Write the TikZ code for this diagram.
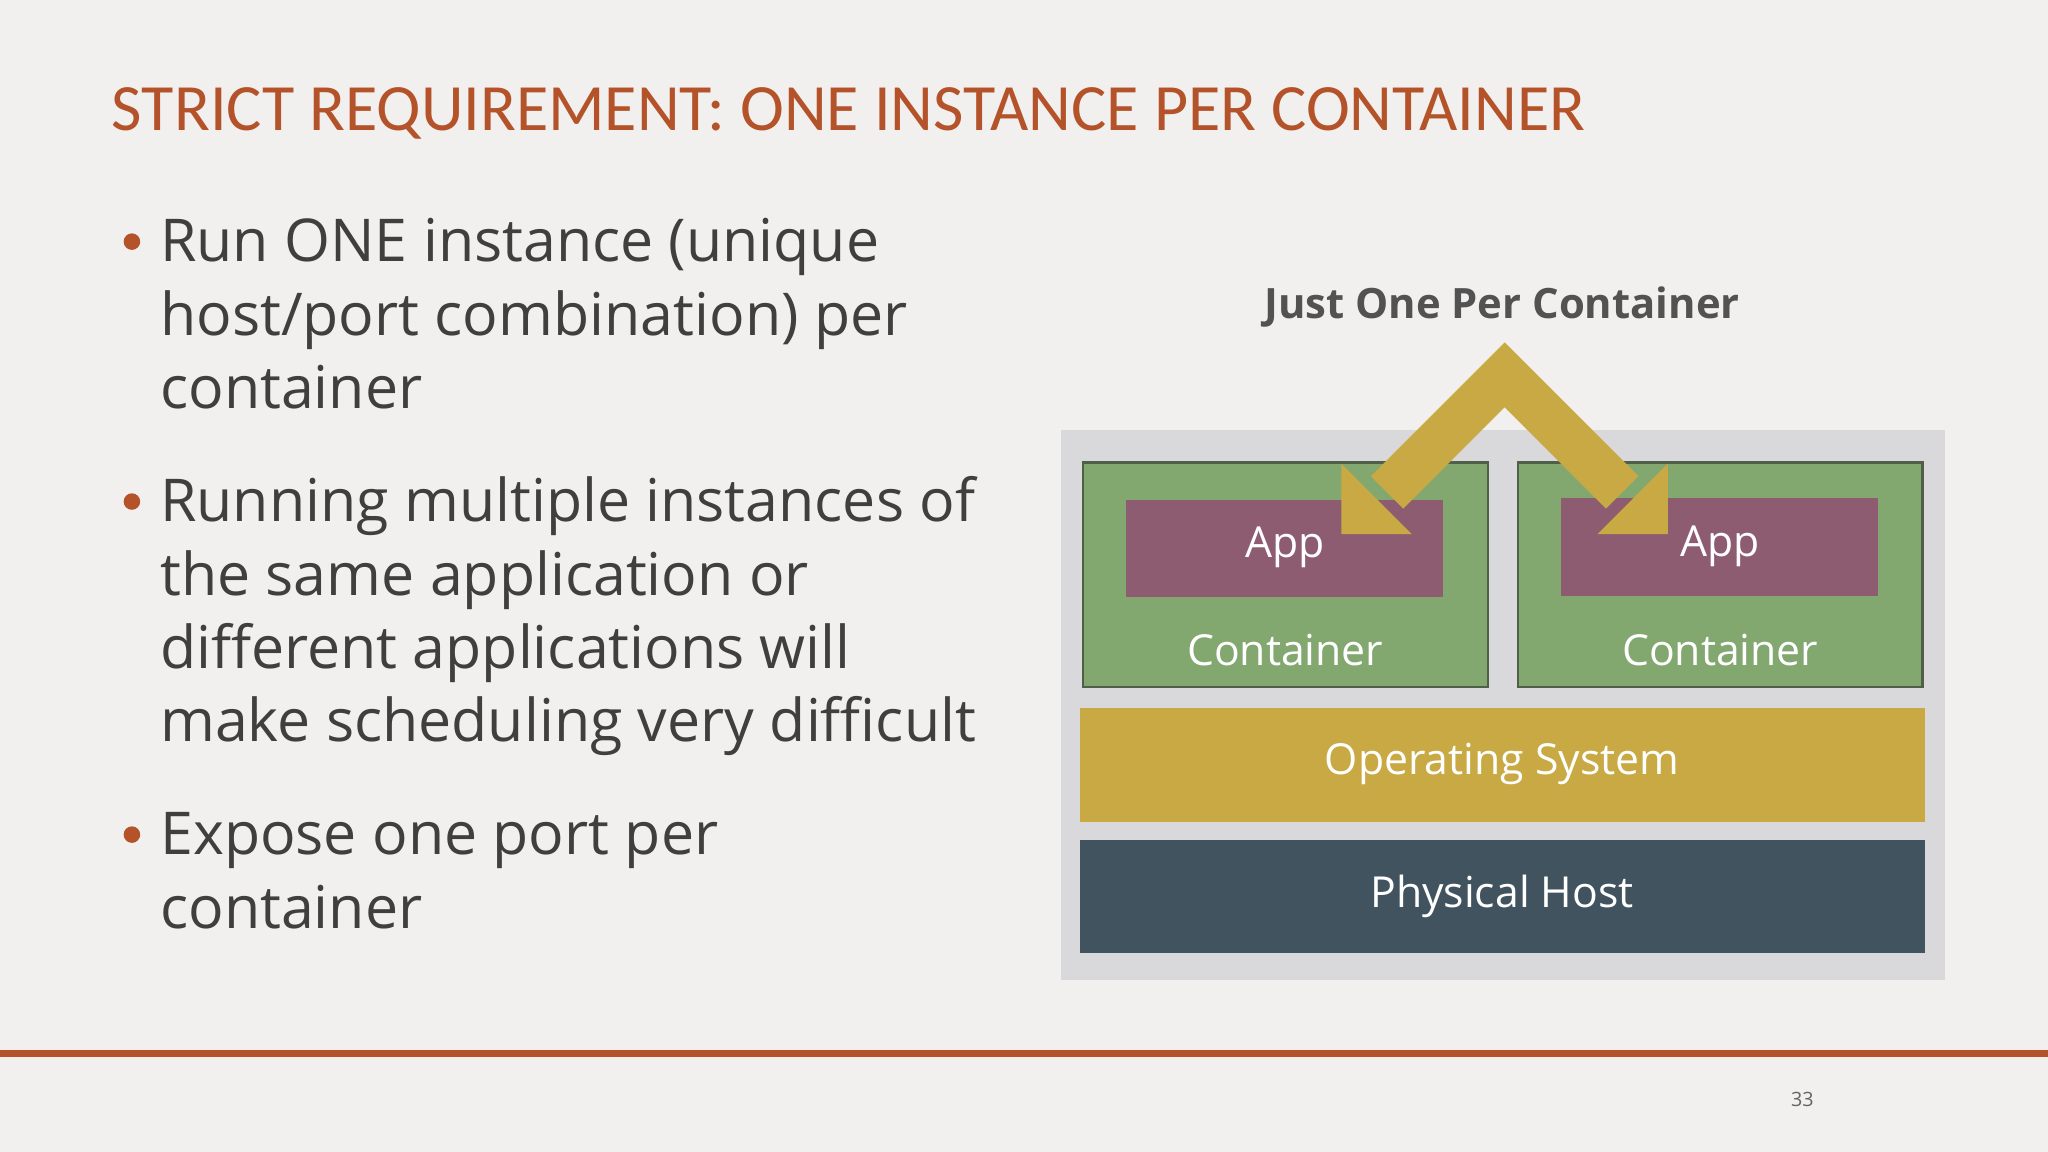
\documentclass[tikz,border=0pt]{standalone}
\usepackage{fontspec}
\setmainfont{Carlito}
\newfontfamily\osans{Open Sans}
\definecolor{bg}{HTML}{F1F0EE}
\definecolor{rust}{HTML}{B4532A}
\definecolor{txt}{HTML}{3F3F3F}
\definecolor{panel}{HTML}{D9D8DA}
\definecolor{cgreen}{HTML}{82A86F}
\definecolor{cborder}{HTML}{4F5F48}
\definecolor{cpurple}{HTML}{8E5C70}
\definecolor{gold}{HTML}{C9A944}
\definecolor{slate}{HTML}{41535F}
\begin{document}
\begin{tikzpicture}[x=0.01cm,y=-0.01cm,
  btxt/.style={anchor=base west,inner sep=0,text=txt,font=\osans\fontsize{12.85pt}{16pt}\selectfont},
  bdot/.style={circle,fill=rust,inner sep=0,minimum size=3.6pt},
  wlbl/.style={text=white,font=\osans\fontsize{9.3pt}{11pt}\selectfont},
  cont/.style={fill=cgreen,draw=cborder,line width=0.5pt},
  appbox/.style={fill=cpurple}]
\fill[bg] (0,0) rectangle (1568,882);
\useasboundingbox (0,0) rectangle (1568,882);
\node[anchor=base west,inner sep=0,text=rust,font=\fontsize{14.4pt}{16pt}\selectfont] (title) at (85,100) {STRICT REQUIREMENT: ONE INSTANCE PER CONTAINER};
% bullets
\node[bdot] (d1) at (101,185) {};
\node[btxt] (b1a) at (122,200) {Run ONE instance (unique};
\node[btxt] (b1b) at (122,257) {host/port combination) per};
\node[btxt] (b1c) at (122,313) {container};
\node[bdot] (d2) at (101,384) {};
\node[btxt] (b2a) at (122,399) {Running multiple instances of};
\node[btxt] (b2b) at (122,456) {the same application or};
\node[btxt] (b2c) at (122,512) {different applications will};
\node[btxt] (b2d) at (122,568) {make scheduling very difficult};
\node[bdot] (d3) at (101,639) {};
\node[btxt] (b3a) at (122,654) {Expose one port per};
\node[btxt] (b3b) at (122,711) {container};
% diagram
\fill[panel] (812,329) rectangle (1489,750);
\draw[cont] (829,354) rectangle (1139,526);
\draw[cont] (1162,354) rectangle (1472,526);
\fill[appbox] (862,383) rectangle (1105,457);
\fill[appbox] (1195,381) rectangle (1438,456);
\node[wlbl] (app1) at (984,419) {App};
\node[wlbl] (app2) at (1317,418) {App};
\node[wlbl] (c1) at (984,498) {Container};
\node[wlbl] (c2) at (1317,498) {Container};
\fill[gold] (827,542) rectangle (1474,629);
\node[wlbl] (os) at (1150,585) {Operating System};
\fill[slate] (827,643) rectangle (1474,730);
\node[wlbl] (ph) at (1150,686) {Physical Host};
\node[text=txt!90,font=\osans\bfseries\fontsize{9.1pt}{11pt}\selectfont] (just) at (1150,235) {Just One Per Container};
% chevron arrow
\coordinate (apex) at (1152,287);
\coordinate (le) at (1062,377);
\coordinate (re) at (1242,377);
\draw[gold,line width=10pt,line join=miter] (le) -- (apex) -- (re);
\fill[gold] (1027,409) -- (1027,355) -- (1081,409) -- cycle;
\fill[gold] (1277,409) -- (1277,355) -- (1223,409) -- cycle;
% footer
\fill[rust] (0,804) rectangle (1568,809);
\node[text=txt!80,font=\osans\fontsize{4.3pt}{5pt}\selectfont] (pg) at (1380,842) {33};
\end{tikzpicture}
\end{document}
